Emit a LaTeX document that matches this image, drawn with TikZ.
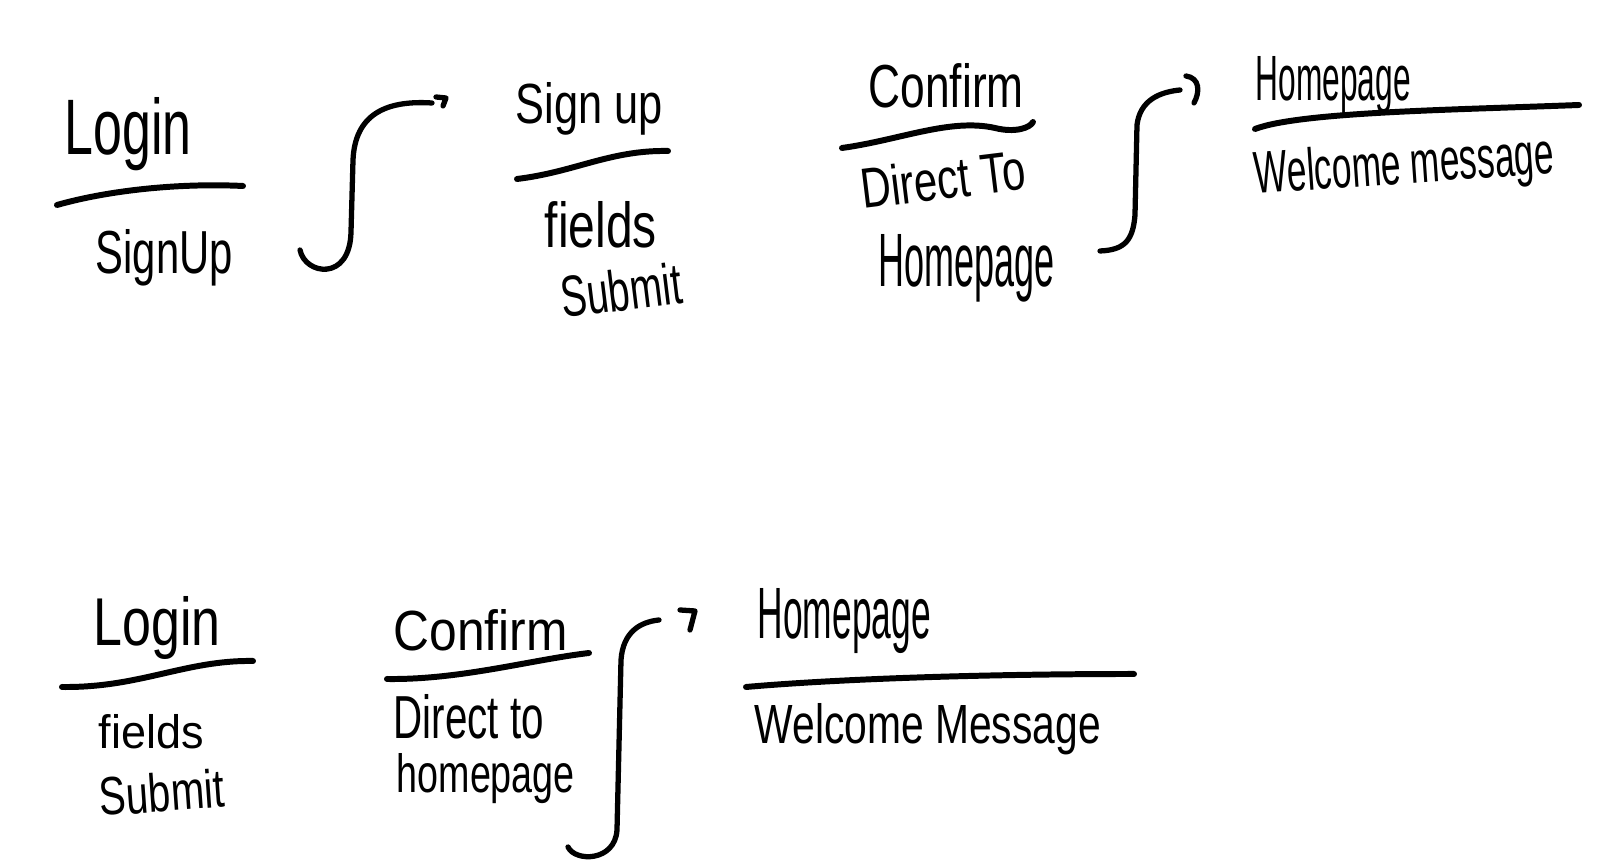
\documentclass[tikz,border=0pt]{standalone}
\usepackage{fontspec}
\setmainfont{Liberation Sans}
\usetikzlibrary{calc}
\newcommand\hw[3]{\resizebox{#1cm}{#2cm}{#3}}
\tikzset{
  txt/.style={inner sep=0pt, anchor=base west, font=\fontsize{18}{20}\selectfont},
  ink/.style={line width=1.7pt, line cap=round, line join=round},
  conn/.style={line width=1.5pt, line cap=round, line join=round},
}
\begin{document}
\begin{tikzpicture}[x=0.01cm,y=-0.01cm]
\useasboundingbox (0,0) rectangle (1620,868);
% row 1 texts
\node[txt] (login1) at (64,155) {\hw{1.27}{0.57}{Login}};
\node[txt] (signup1) at (95,274) {\hw{1.37}{0.44}{SignUp}};
\node[txt] (signup2) at (515,124) {\hw{1.47}{0.41}{Sign up}};
\node[txt] (fields1) at (544,248) {\hw{1.12}{0.46}{fields}};
\node[txt,rotate=7] (submit1) at (563,318) {\hw{1.21}{0.42}{Submit}};
\node[txt] (confirm1) at (868,108) {\hw{1.55}{0.44}{Confirm}};
\node[txt,rotate=7] (direct1) at (863,209) {\hw{1.65}{0.41}{Direct To}};
\node[txt] (home1) at (878,287) {\hw{1.76}{0.52}{Homepage}};
\node[txt] (home2) at (1255,101) {\hw{1.55}{0.44}{Homepage}};
\node[txt,rotate=4] (welcome1) at (1255,194) {\hw{3.00}{0.43}{Welcome message}};
% row 2 texts
\node[txt] (login2) at (93,646) {\hw{1.27}{0.49}{Login}};
\node[txt] (fields2) at (98,749) {\hw{1.05}{0.34}{fields}};
\node[txt,rotate=4] (submit2) at (100,816) {\hw{1.25}{0.39}{Submit}};
\node[txt] (confirm2) at (393,651) {\hw{1.74}{0.41}{Confirm}};
\node[txt] (direct2) at (393,739) {\hw{1.50}{0.44}{Direct to}};
\node[txt] (home3) at (396,793) {\hw{1.78}{0.39}{homepage}};
\node[txt] (home4) at (757,639) {\hw{1.73}{0.50}{Homepage}};
\node[txt] (welcome2) at (754,744) {\hw{3.46}{0.40}{Welcome Message}};
% rule lines
\draw[ink] (57,205) .. controls (110,190) and (180,183) .. (243,186);
\draw[ink] (517,179) .. controls (575,172) and (610,150) .. (668,151);
\draw[ink] (842,148) .. controls (900,140) and (950,118) .. (995,128) .. controls (1015,133) and (1030,128) .. (1033,122);
\draw[ink] (1255,129) .. controls (1300,112) and (1450,110) .. (1579,105);
\draw[ink] (62,687) .. controls (140,688) and (185,660) .. (253,661);
\draw[ink] (387,679) .. controls (460,680) and (530,660) .. (589,653);
\draw[ink] (746,687) .. controls (850,678) and (1000,674) .. (1134,674);
% connectors
\coordinate (c1s) at (300,250); \coordinate (c1e) at (432,103);
\draw[conn] (c1s) .. controls (305,275) and (350,282) .. (351,232) -- (353,160) .. controls (355,115) and (385,100) .. (c1e);
\draw[conn] (436,97) -- (446,98) -- (443,106);
\coordinate (c2s) at (1100,251); \coordinate (c2e) at (1180,90);
\draw[conn] (c2s) .. controls (1125,250) and (1133,240) .. (1135,215) -- (1137,125) .. controls (1140,100) and (1160,92) .. (c2e);
\draw[conn] (1186,76) .. controls (1200,78) and (1200,92) .. (1194,103);
\coordinate (c3s) at (568,847); \coordinate (c3e) at (659,620);
\draw[conn] (c3s) .. controls (575,862) and (615,862) .. (617,830) -- (621,660) .. controls (623,632) and (640,622) .. (c3e);
\draw[conn] (680,610) -- (695,611) -- (690,630);
\end{tikzpicture}
\end{document}
